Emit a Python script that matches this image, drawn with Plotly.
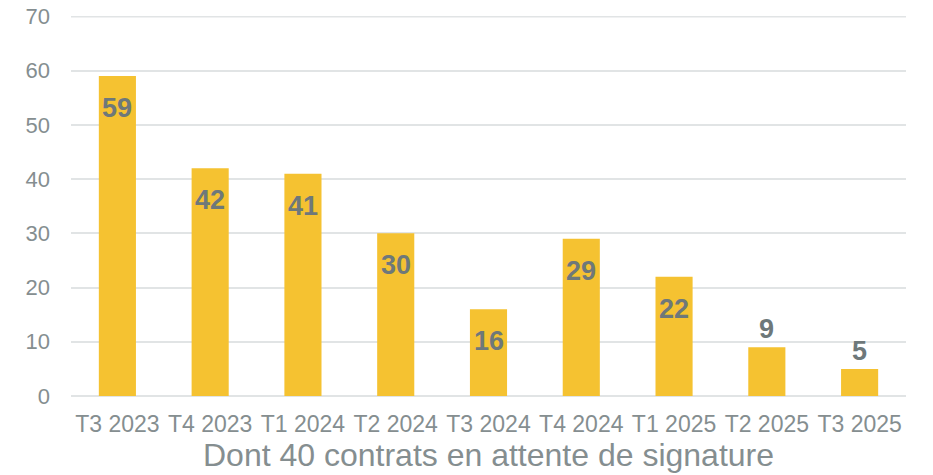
import plotly.graph_objects as go

categories = ["T3 2023", "T4 2023", "T1 2024", "T2 2024", "T3 2024",
              "T4 2024", "T1 2025", "T2 2025", "T3 2025"]
values = [59, 42, 41, 30, 16, 29, 22, 9, 5]
label_inside = [True, True, True, True, True, True, True, False, False]
y_ticks = [0, 10, 20, 30, 40, 50, 60, 70]
x_title = "Dont 40 contrats en attente de signature"

BAR = "#F5C231"
TICK = "#858E90"
LABEL = "#6E787A"
GRID = "#E1E4E5"
FONT = "Liberation Sans, Arial, sans-serif"

fig = go.Figure(go.Bar(x=categories, y=values, marker_color=BAR,
                       marker_line_width=0, hoverinfo="skip"))

for c, v, ins in zip(categories, values, label_inside):
    fig.add_annotation(x=c, y=v, text=f"<b>{v}</b>", showarrow=False,
                       yshift=-32 if ins else 18,
                       font=dict(family=FONT, size=27, color=LABEL))

# top gridline (plotly hides the grid line lying on the range edge)
fig.add_shape(type="line", xref="paper", x0=0, x1=1, yref="y",
              y0=y_ticks[-1], y1=y_ticks[-1], layer="below",
              line=dict(color=GRID, width=2))

fig.update_layout(
    width=933, height=475,
    margin=dict(l=71, r=27, t=16, b=79),
    paper_bgcolor="white", plot_bgcolor="white",
    bargap=0.6, showlegend=False,
    font=dict(family=FONT, color=TICK),
)
fig.update_xaxes(
    automargin=False,
    tickfont=dict(size=23, color=TICK), ticklabelstandoff=12,
    title=dict(text=x_title, font=dict(size=32, color=TICK), standoff=7),
    showgrid=False, showline=False, ticks="",
)
fig.update_yaxes(
    automargin=False,
    range=[0, 70.08], tickvals=y_ticks, ticklabeloverflow="allow",
    tickfont=dict(size=22, color=TICK),
    showgrid=True, gridcolor=GRID, gridwidth=2,
    zeroline=True, zerolinecolor=GRID, zerolinewidth=2,
    ticks="", ticklabelstandoff=20,
)
fig.write_html("out.html", config={"displayModeBar": False},
               post_script="document.body.style.margin='0';")
